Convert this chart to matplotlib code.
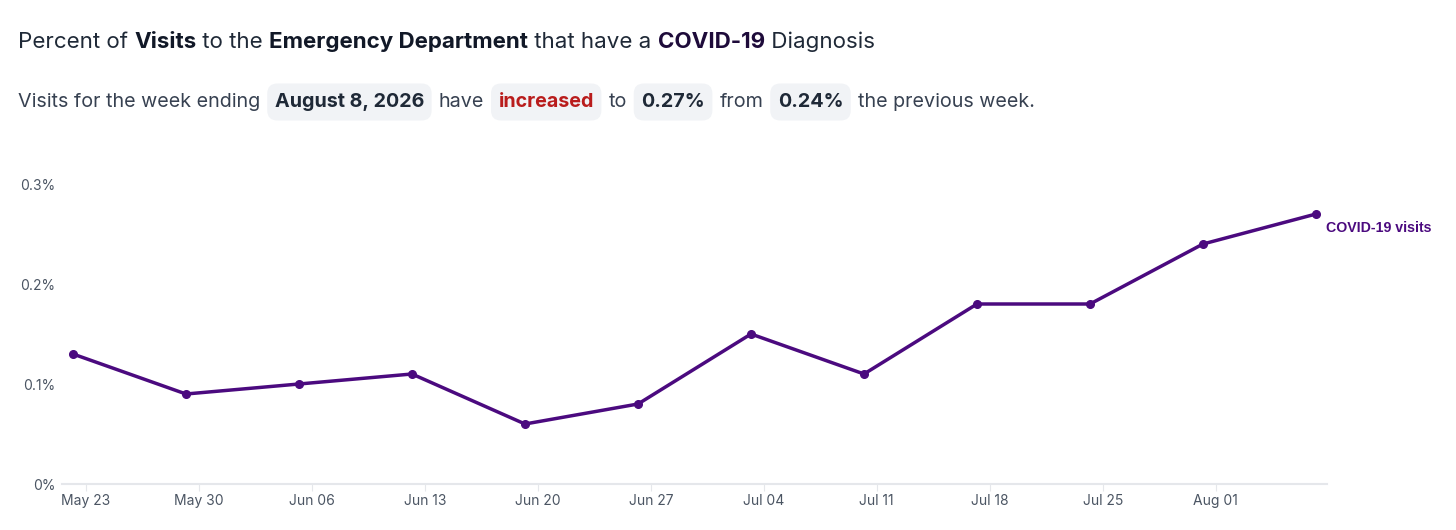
import matplotlib
matplotlib.use("Agg")
import matplotlib.pyplot as plt
import matplotlib.transforms as mtransforms
from matplotlib.patches import FancyBboxPatch
import pandas as pd

# ---- data ----
week_ending = ["2026-05-23", "2026-05-30", "2026-06-06", "2026-06-13", "2026-06-20", "2026-06-27",
               "2026-07-04", "2026-07-11", "2026-07-18", "2026-07-25", "2026-08-01", "2026-08-08"]
pct_visits = [0.13, 0.09, 0.10, 0.11, 0.06, 0.08, 0.15, 0.11, 0.18, 0.18, 0.24, 0.27]
tick_dates = ["2026-05-23", "2026-05-30", "2026-06-06", "2026-06-13", "2026-06-20", "2026-06-27",
              "2026-07-04", "2026-07-11", "2026-07-18", "2026-07-25", "2026-08-01"]
tick_labels = ["May 23", "May 30", "Jun 06", "Jun 13", "Jun 20", "Jun 27",
               "Jul 04", "Jul 11", "Jul 18", "Jul 25", "Aug 01"]
y_ticks = [0.0, 0.1, 0.2, 0.3]
y_tick_labels = ["0%", "0.1%", "0.2%", "0.3%"]
series_label = "COVID-19 visits"

LINE = "#4b0a7f"
DARK = "#1f2937"
TXT = "#374151"
GRAY = "#4b5563"

W, H = 1456, 530
fig = plt.figure(figsize=(W / 100, H / 100), dpi=100)
fig.patch.set_facecolor("white")

# axes placement (pixels)
L, R, T, B = 62, 1327, 184, 484
ax = fig.add_axes([L / W, 1 - B / H, (R - L) / W, (B - T) / H])

dates = pd.to_datetime(week_ending)
ax.plot(dates, pct_visits, color=LINE, lw=2.5, marker="o", ms=5.5, clip_on=False,
        solid_joinstyle="round", zorder=3)

ax.set_xlim(dates[0] - pd.Timedelta(days=0.68), dates[-1] + pd.Timedelta(days=0.68))
ax.set_ylim(0, 0.3)

tick_pos = pd.to_datetime(tick_dates) + pd.Timedelta(hours=19)
ax.set_xticks(tick_pos)
ax.set_xticklabels(tick_labels, fontfamily="Inter", fontsize=10, color=GRAY)
ax.set_yticks(y_ticks)
ax.set_yticklabels(y_tick_labels, fontfamily="Inter", fontsize=10, color=GRAY)

for s in ["top", "right", "left"]:
    ax.spines[s].set_visible(False)
ax.spines["bottom"].set_color("#e5e7eb")
ax.spines["bottom"].set_linewidth(1.5)
ax.tick_params(axis="x", length=5, width=0.8, color="#e5e7eb", pad=2)
ax.tick_params(axis="y", length=0, pad=5)

ax.annotate(series_label, xy=(dates[-1], pct_visits[-1]), xytext=(10, -14),
            textcoords="offset pixels", ha="left", va="center",
            fontfamily="Liberation Sans", fontweight="bold", fontsize=10.2, color=LINE)

# ---- rich text header ----
ident = mtransforms.IdentityTransform()
fig.canvas.draw()
renderer = fig.canvas.get_renderer()


def draw_runs(x, y, runs, size, gap, padx=9):
    """runs: list of (text, weight, color, pill) ; y in pixels from top (center)."""
    yd = H - y
    for txt, weight, color, pill in runs:
        if pill:
            x += gap
            t = fig.text(x + padx, yd, txt, transform=ident, fontfamily="Inter",
                         fontsize=size, fontweight=weight, color=color, va="center", ha="left")
            w = t.get_window_extent(renderer).width
            box = FancyBboxPatch((x, yd - 18.5), w + 2 * padx, 37,
                                 boxstyle="round,pad=0,rounding_size=10",
                                 transform=ident, facecolor="#f1f3f6", edgecolor="none",
                                 zorder=0)
            fig.patches.append(box)
            x += w + 2 * padx + gap
        else:
            t = fig.text(x, yd, txt, transform=ident, fontfamily="Inter",
                         fontsize=size, fontweight=weight, color=color, va="center", ha="left")
            x += t.get_window_extent(renderer).width
    return x


title_runs = [
    ("Percent of ", "normal", DARK, False),
    ("Visits", "bold", "#111827", False),
    (" to the ", "normal", DARK, False),
    ("Emergency Department", "bold", "#111827", False),
    (" that have a ", "normal", DARK, False),
    ("COVID-19", "bold", "#1e0b3a", False),
    (" Diagnosis", "normal", DARK, False),
]
draw_runs(18, 42, title_runs, 16.1, 0)

sub_runs = [
    ("Visits for the week ending", "normal", TXT, False),
    ("August 8, 2026", "bold", DARK, True),
    ("have", "normal", TXT, False),
    ("increased", "bold", "#b91c1c", True),
    ("to", "normal", TXT, False),
    ("0.27%", "bold", DARK, True),
    ("from", "normal", TXT, False),
    ("0.24%", "bold", DARK, True),
    ("the previous week.", "normal", TXT, False),
]
draw_runs(18, 102, sub_runs, 14.2, 7, padx=7.5)

fig.savefig("out.png", dpi=100)
